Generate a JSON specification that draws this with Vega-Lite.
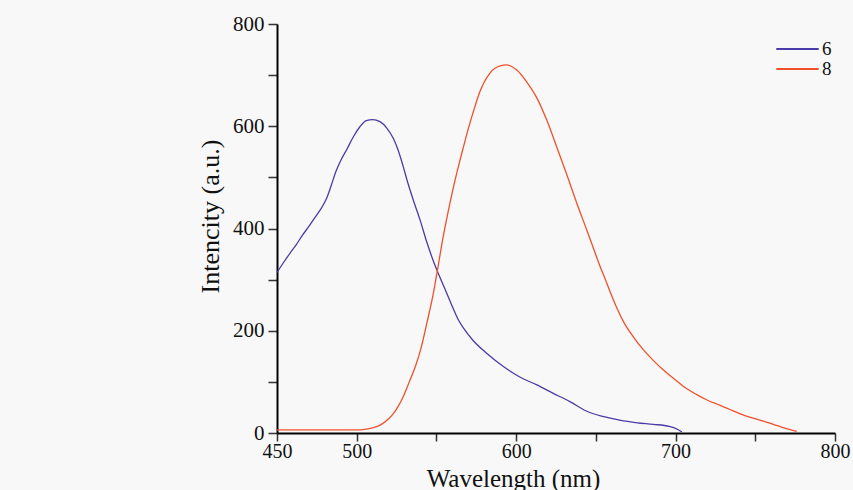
{
  "$schema": "https://vega.github.io/schema/vega-lite/v6.json",
  "width": 558,
  "height": 409,
  "autosize": {"type": "none"},
  "padding": {"left": 277, "top": 24, "right": 18, "bottom": 57},
  "background": "#f8f8f8",
  "config": {"view": {"stroke": null}, "font": "Liberation Serif"},
  "data": {
    "values": [
      {"wl": 450, "I": 314, "s": "6"},
      {"wl": 454, "I": 333, "s": "6"},
      {"wl": 458, "I": 351, "s": "6"},
      {"wl": 462, "I": 368, "s": "6"},
      {"wl": 466, "I": 387, "s": "6"},
      {"wl": 470, "I": 404, "s": "6"},
      {"wl": 473, "I": 418, "s": "6"},
      {"wl": 477, "I": 436, "s": "6"},
      {"wl": 481, "I": 458, "s": "6"},
      {"wl": 484, "I": 484, "s": "6"},
      {"wl": 487, "I": 512, "s": "6"},
      {"wl": 490, "I": 533, "s": "6"},
      {"wl": 494, "I": 556, "s": "6"},
      {"wl": 498, "I": 580, "s": "6"},
      {"wl": 502, "I": 599, "s": "6"},
      {"wl": 506, "I": 611, "s": "6"},
      {"wl": 510, "I": 613, "s": "6"},
      {"wl": 514.6, "I": 609, "s": "6"},
      {"wl": 519, "I": 596, "s": "6"},
      {"wl": 523, "I": 576, "s": "6"},
      {"wl": 526, "I": 553, "s": "6"},
      {"wl": 529, "I": 523, "s": "6"},
      {"wl": 532, "I": 490, "s": "6"},
      {"wl": 536, "I": 451, "s": "6"},
      {"wl": 540, "I": 414, "s": "6"},
      {"wl": 544, "I": 373, "s": "6"},
      {"wl": 548, "I": 337, "s": "6"},
      {"wl": 552, "I": 306, "s": "6"},
      {"wl": 556.4, "I": 274, "s": "6"},
      {"wl": 560.6, "I": 243, "s": "6"},
      {"wl": 564, "I": 220, "s": "6"},
      {"wl": 567, "I": 205, "s": "6"},
      {"wl": 573, "I": 181, "s": "6"},
      {"wl": 581.5, "I": 156, "s": "6"},
      {"wl": 592, "I": 130, "s": "6"},
      {"wl": 602, "I": 110, "s": "6"},
      {"wl": 613, "I": 94, "s": "6"},
      {"wl": 623, "I": 78, "s": "6"},
      {"wl": 634, "I": 61, "s": "6"},
      {"wl": 644, "I": 43, "s": "6"},
      {"wl": 655, "I": 32, "s": "6"},
      {"wl": 665, "I": 25, "s": "6"},
      {"wl": 676, "I": 20, "s": "6"},
      {"wl": 686, "I": 17, "s": "6"},
      {"wl": 696, "I": 13, "s": "6"},
      {"wl": 700, "I": 9, "s": "6"},
      {"wl": 704, "I": 2, "s": "6"},
      {"wl": 450, "I": 6, "s": "8"},
      {"wl": 470, "I": 6, "s": "8"},
      {"wl": 490, "I": 6, "s": "8"},
      {"wl": 500, "I": 6, "s": "8"},
      {"wl": 505, "I": 7, "s": "8"},
      {"wl": 510, "I": 10, "s": "8"},
      {"wl": 515, "I": 16, "s": "8"},
      {"wl": 520, "I": 28, "s": "8"},
      {"wl": 523, "I": 38, "s": "8"},
      {"wl": 526, "I": 52, "s": "8"},
      {"wl": 529, "I": 70, "s": "8"},
      {"wl": 533, "I": 100, "s": "8"},
      {"wl": 537, "I": 132, "s": "8"},
      {"wl": 540, "I": 162, "s": "8"},
      {"wl": 544, "I": 215, "s": "8"},
      {"wl": 548, "I": 272, "s": "8"},
      {"wl": 551, "I": 325, "s": "8"},
      {"wl": 554.3, "I": 385, "s": "8"},
      {"wl": 557.5, "I": 435, "s": "8"},
      {"wl": 560.6, "I": 480, "s": "8"},
      {"wl": 564, "I": 524, "s": "8"},
      {"wl": 567, "I": 560, "s": "8"},
      {"wl": 569, "I": 584, "s": "8"},
      {"wl": 571, "I": 606, "s": "8"},
      {"wl": 573.1, "I": 628, "s": "8"},
      {"wl": 577.3, "I": 668, "s": "8"},
      {"wl": 583.6, "I": 704, "s": "8"},
      {"wl": 589.9, "I": 718, "s": "8"},
      {"wl": 594, "I": 720, "s": "8"},
      {"wl": 600.4, "I": 710, "s": "8"},
      {"wl": 606.6, "I": 687, "s": "8"},
      {"wl": 612.9, "I": 656, "s": "8"},
      {"wl": 619.2, "I": 612, "s": "8"},
      {"wl": 625.4, "I": 560, "s": "8"},
      {"wl": 631.7, "I": 506, "s": "8"},
      {"wl": 638, "I": 450, "s": "8"},
      {"wl": 644.3, "I": 397, "s": "8"},
      {"wl": 648.4, "I": 362, "s": "8"},
      {"wl": 652.6, "I": 326, "s": "8"},
      {"wl": 656, "I": 300, "s": "8"},
      {"wl": 659, "I": 276, "s": "8"},
      {"wl": 663.1, "I": 245, "s": "8"},
      {"wl": 668, "I": 214, "s": "8"},
      {"wl": 673.5, "I": 188, "s": "8"},
      {"wl": 680, "I": 162, "s": "8"},
      {"wl": 686, "I": 142, "s": "8"},
      {"wl": 692, "I": 124, "s": "8"},
      {"wl": 698.6, "I": 107, "s": "8"},
      {"wl": 705, "I": 91, "s": "8"},
      {"wl": 713.3, "I": 75, "s": "8"},
      {"wl": 720, "I": 64, "s": "8"},
      {"wl": 728, "I": 54, "s": "8"},
      {"wl": 734, "I": 46, "s": "8"},
      {"wl": 741, "I": 37, "s": "8"},
      {"wl": 748.8, "I": 29, "s": "8"},
      {"wl": 755, "I": 23, "s": "8"},
      {"wl": 761.3, "I": 17, "s": "8"},
      {"wl": 768, "I": 10, "s": "8"},
      {"wl": 776, "I": 3, "s": "8"}
    ]
  },
  "mark": {"type": "line", "strokeWidth": 1.3, "interpolate": "monotone"},
  "encoding": {
    "x": {
      "field": "wl",
      "type": "quantitative",
      "scale": {"domain": [450, 800], "nice": false, "zero": false},
      "axis": {
        "values": [450, 500, 550, 600, 650, 700, 750, 800],
        "labelExpr": "datum.value == 550 || datum.value == 650 || datum.value == 750 ? '' : datum.label",
        "title": "Wavelength (nm)",
        "grid": false,
        "domainColor": "#000000",
        "domainWidth": 2,
        "tickColor": "#333333",
        "tickWidth": 1.5,
        "tickSize": 8,
        "labelFontSize": 20,
        "labelColor": "#111111",
        "labelPadding": 0,
        "labelFlush": false,
        "labelOverlap": false,
        "labelBound": false,
        "titleFontSize": 25,
        "titleFontWeight": "normal",
        "titleColor": "#111111",
        "titleX": 236,
        "titleY": 53,
        "titleAlign": "center",
        "titleBaseline": "alphabetic"
      }
    },
    "y": {
      "field": "I",
      "type": "quantitative",
      "scale": {"domain": [0, 800], "nice": false},
      "axis": {
        "values": [0, 100, 200, 300, 400, 500, 600, 700, 800],
        "labelExpr": "datum.value % 200 == 0 ? datum.label : ''",
        "title": "Intencity (a.u.)",
        "grid": false,
        "domainColor": "#000000",
        "domainWidth": 2,
        "tickColor": "#333333",
        "tickWidth": 1.5,
        "tickSize": 9,
        "labelFontSize": 21,
        "labelColor": "#111111",
        "labelPadding": 4,
        "labelFlush": false,
        "labelOverlap": false,
        "labelBound": false,
        "titleFontSize": 26,
        "titleFontWeight": "normal",
        "titleColor": "#111111",
        "titleAngle": 270,
        "titleX": -59,
        "titleY": 192,
        "titleAlign": "center",
        "titleBaseline": "alphabetic"
      }
    },
    "color": {
      "field": "s",
      "type": "nominal",
      "scale": {"domain": ["6", "8"], "range": ["#4a3ca6", "#f0502c"]},
      "legend": {
        "title": null,
        "orient": "none",
        "legendX": 498,
        "legendY": 18.5,
        "symbolType": "stroke",
        "symbolSize": 1800,
        "symbolStrokeWidth": 2,
        "labelFontSize": 19,
        "labelFont": "Liberation Serif",
        "labelColor": "#111111",
        "labelOffset": 2,
        "clipHeight": 13,
        "padding": 0,
        "rowPadding": 0
      }
    }
  }
}
